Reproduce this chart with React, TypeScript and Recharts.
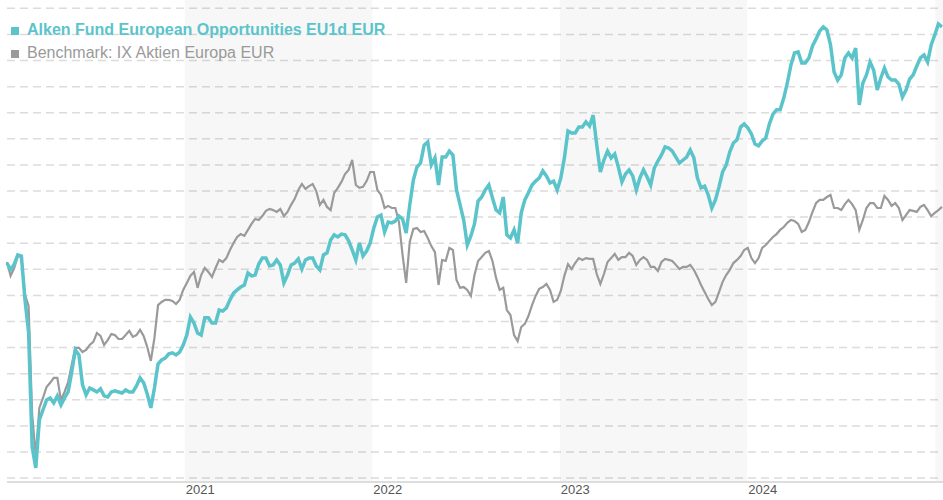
import { LineChart, Line, XAxis, YAxis, CartesianGrid, ReferenceArea } from 'recharts'

// weekly closes, performance in %
const START = Date.UTC(2020, 0, 21)
const END = Date.UTC(2025, 0, 16)
const WEEK = 7 * 86400000

const FUND = [
  2.4, -0.2, 2.0, 5.5, 5.1, -11.7, -24.0, -68.1, -76.1, -57.7,
  -53.9, -50.1, -49.3, -51.2, -48.5, -52.0, -49.3, -47.0, -39.3, -30.9,
  -32.8, -44.3, -48.1, -45.5, -46.2, -47.0, -45.8, -48.5, -48.9, -47.0,
  -46.6, -47.0, -47.4, -46.2, -47.0, -47.0, -44.7, -41.6, -43.5, -47.8,
  -53.1, -45.5, -36.3, -34.7, -34.0, -32.4, -32.0, -32.8, -31.7, -29.0,
  -25.2, -18.3, -20.6, -24.4, -25.2, -18.6, -18.6, -20.6, -20.6, -15.6,
  -16.0, -14.8, -11.7, -9.1, -7.9, -6.8, -6.0, -1.4, -2.5, -2.2,
  2.0, 4.3, 4.3, 1.3, 1.7, 3.6, 1.7, -5.2, -2.2, 1.7,
  2.4, 4.0, 0.1, 3.6, 4.3, 4.3, 1.3, -0.2, 5.5, 6.3,
  11.2, 13.2, 12.4, 13.5, 13.2, 10.9, 7.4, 3.6, 10.1, 5.1,
  7.0, 10.1, 15.8, 20.1, 20.8, 14.3, 18.1, 17.8, 18.5, 20.4,
  19.3, 13.9, 24.7, 34.2, 39.2, 40.7, 47.6, 48.8, 40.0, 42.7,
  32.3, 43.0, 43.0, 45.3, 43.8, 30.4, 24.7, 18.9, 9.3, 12.8,
  17.4, 26.2, 27.7, 30.4, 32.3, 27.3, 22.7, 21.6, 27.7, 13.2,
  12.0, 15.1, 10.1, 21.6, 26.6, 29.3, 32.3, 33.8, 35.0, 37.7,
  35.8, 33.1, 33.8, 30.4, 35.0, 42.7, 53.0, 52.2, 52.2, 54.5,
  54.5, 56.5, 54.9, 59.1, 47.6, 37.3, 41.9, 45.3, 42.7, 44.2,
  39.2, 33.5, 36.5, 38.1, 35.8, 30.4, 35.0, 38.1, 35.4, 32.3,
  38.8, 41.5, 43.8, 46.9, 46.5, 45.3, 43.0, 40.7, 41.9, 43.0,
  45.7, 42.7, 35.0, 31.2, 31.9, 28.5, 23.5, 26.6, 31.6, 37.3,
  40.0, 45.0, 48.4, 49.6, 54.5, 55.7, 54.2, 51.9, 48.0, 47.3,
  49.2, 50.3, 55.7, 59.5, 61.1, 61.1, 65.6, 71.4, 78.3, 82.9,
  83.3, 79.1, 79.1, 81.0, 85.6, 88.3, 91.3, 92.9, 91.7, 86.0,
  75.6, 72.5, 74.5, 81.0, 82.9, 81.0, 84.8, 63.0, 71.4, 74.5,
  79.4, 76.4, 68.7, 73.3, 77.1, 73.7, 72.5, 72.5, 71.0, 66.0,
  68.7, 72.9, 74.5, 77.9, 81.0, 82.1, 79.4, 86.0, 89.8, 94.0,
  92.9,
]

const BENCH = [
  2.8, -2.5, 0.5, 5.1, 4.7, -9.8, -14.0, -55.8, -71.5, -53.1,
  -49.3, -45.1, -43.5, -41.6, -41.6, -50.1, -47.0, -43.2, -36.6, -30.1,
  -30.1, -31.7, -30.9, -29.0, -27.8, -24.4, -25.5, -29.0, -27.1, -24.8,
  -25.2, -26.7, -26.7, -25.2, -23.6, -25.9, -25.2, -23.2, -25.5, -29.8,
  -35.1, -26.3, -13.7, -12.5, -11.7, -11.7, -12.1, -13.3, -11.7, -7.9,
  -5.2, -2.5, -1.0, -7.1, -2.2, 0.5, -1.0, -2.9, 0.5, 3.6,
  2.8, 4.3, 7.4, 10.1, 12.4, 13.5, 12.8, 15.1, 17.4, 19.3,
  18.9, 20.4, 22.4, 23.1, 22.7, 22.0, 23.1, 20.4, 22.0, 24.7,
  27.0, 30.4, 32.7, 30.8, 31.9, 32.7, 30.0, 24.7, 26.6, 23.9,
  22.7, 29.3, 31.2, 33.5, 36.5, 38.1, 41.9, 32.3, 31.2, 31.6,
  33.8, 37.3, 37.3, 30.4, 28.5, 23.5, 24.3, 23.5, 23.5, 18.1,
  5.5, -5.2, 10.5, 15.5, 15.8, 14.3, 14.7, 12.0, 8.9, 6.6,
  -6.0, 3.6, 3.2, 8.2, 7.4, -4.1, -7.1, -6.8, -7.9, -10.2,
  -2.2, 3.2, 4.7, 6.3, 7.0, 3.2, -3.3, -7.9, -7.1, -15.6,
  -17.5, -25.2, -27.5, -22.1, -20.9, -17.9, -13.7, -10.2, -7.5, -6.8,
  -5.6, -7.9, -12.5, -11.7, -8.3, -2.5, 2.0, 0.1, 2.4, 4.3,
  3.6, 4.3, 4.0, 4.0, -1.8, -5.6, -1.8, 2.8, 4.3, 5.9,
  3.6, 4.7, 4.7, 6.3, 5.1, 1.7, 3.6, 4.7, 3.6, 0.9,
  0.9, -0.6, 2.8, 4.0, 3.6, 3.2, 1.7, 0.1, 0.9, 0.9,
  1.7, -0.2, -2.9, -6.0, -8.7, -11.4, -13.7, -12.5, -8.7, -4.8,
  -2.2, -0.2, 2.4, 3.6, 5.1, 7.4, 8.2, 4.3, 2.4, 4.3,
  8.2, 9.3, 10.9, 12.4, 13.5, 15.1, 16.2, 17.8, 18.9, 18.5,
  17.4, 14.3, 15.1, 18.1, 22.0, 25.4, 26.6, 26.6, 27.7, 28.5,
  23.5, 23.5, 22.7, 25.0, 26.6, 25.0, 22.7, 15.1, 18.9, 23.5,
  25.4, 25.4, 23.5, 23.5, 28.1, 26.6, 24.3, 25.4, 23.5, 18.9,
  20.8, 22.7, 22.4, 22.0, 23.9, 24.7, 22.7, 20.4, 21.6, 22.7,
  23.9,
]

const YEAR_TICKS = [2021, 2022, 2023, 2024]
const SHADED_YEARS = [2021, 2023, 2025]
const Y_TICKS = [-80, -70, -60, -50, -40, -30, -20, -10, 0, 10, 20, 30, 40, 50, 60, 70, 80, 90, 100]

const FUND_NAME = 'Alken Fund European Opportunities EU1d EUR'
const BENCH_NAME = 'Benchmark: IX Aktien Europa EUR'
const TEAL = '#5bc4cb'
const GREY = '#9a9a9a'

const data = FUND.map((v, i) => ({ t: START + i * WEEK, fund: v, bench: BENCH[i] }))

function YearTick({ x, y, payload }: any) {
  return (
    <text x={x + 1} y={y} dy={4} textAnchor="start" fontSize={13} fill="#555"
      fontFamily="'Liberation Sans', Arial, sans-serif">
      {new Date(payload.value).getUTCFullYear()}
    </text>
  )
}

const legendText = { position: 'absolute' as const, left: 27, fontSize: 16, lineHeight: '23px', whiteSpace: 'nowrap' as const }
const legendBox = { position: 'absolute' as const, left: 11, width: 8, height: 8 }

export default function App() {
  return (
    <div style={{ position: 'absolute', left: 0, top: 0, width: 943, height: 500, fontFamily: "'Liberation Sans', Arial, sans-serif" }}>
      <LineChart width={943} height={500} data={data} margin={{ top: 0, right: 0, bottom: 0, left: 7 }}>
        {SHADED_YEARS.map((y) => (
          <ReferenceArea key={y} x1={Date.UTC(y, 0, 1)} x2={Math.min(Date.UTC(y + 1, 0, 1), END)}
            fill="#000" fillOpacity={0.03} stroke="none" />
        ))}
        <CartesianGrid vertical={false} horizontalValues={Y_TICKS} stroke="#dcdcdc" strokeWidth={1.5} strokeDasharray="8 5" />
        <XAxis dataKey="t" type="number" domain={[START, END]} ticks={YEAR_TICKS.map((y) => Date.UTC(y, 0, 1))}
          interval={0} tick={<YearTick />} tickLine={false} axisLine={{ stroke: '#dddddd', strokeWidth: 2 }} height={18} />
        <YAxis hide domain={[-81.5, 103.2]} ticks={Y_TICKS} />
        <Line type="linear" dataKey="bench" stroke={GREY} strokeWidth={2.2} dot={false} isAnimationActive={false} />
        <Line type="linear" dataKey="fund" stroke={TEAL} strokeWidth={3.5} dot={false} isAnimationActive={false} />
      </LineChart>
      <div style={{ ...legendBox, top: 27, background: TEAL }} />
      <div style={{ ...legendText, top: 18, color: TEAL, fontWeight: 'bold' }}>{FUND_NAME}</div>
      <div style={{ ...legendBox, top: 50, background: GREY }} />
      <div style={{ ...legendText, top: 41, color: GREY }}>{BENCH_NAME}</div>
    </div>
  )
}
